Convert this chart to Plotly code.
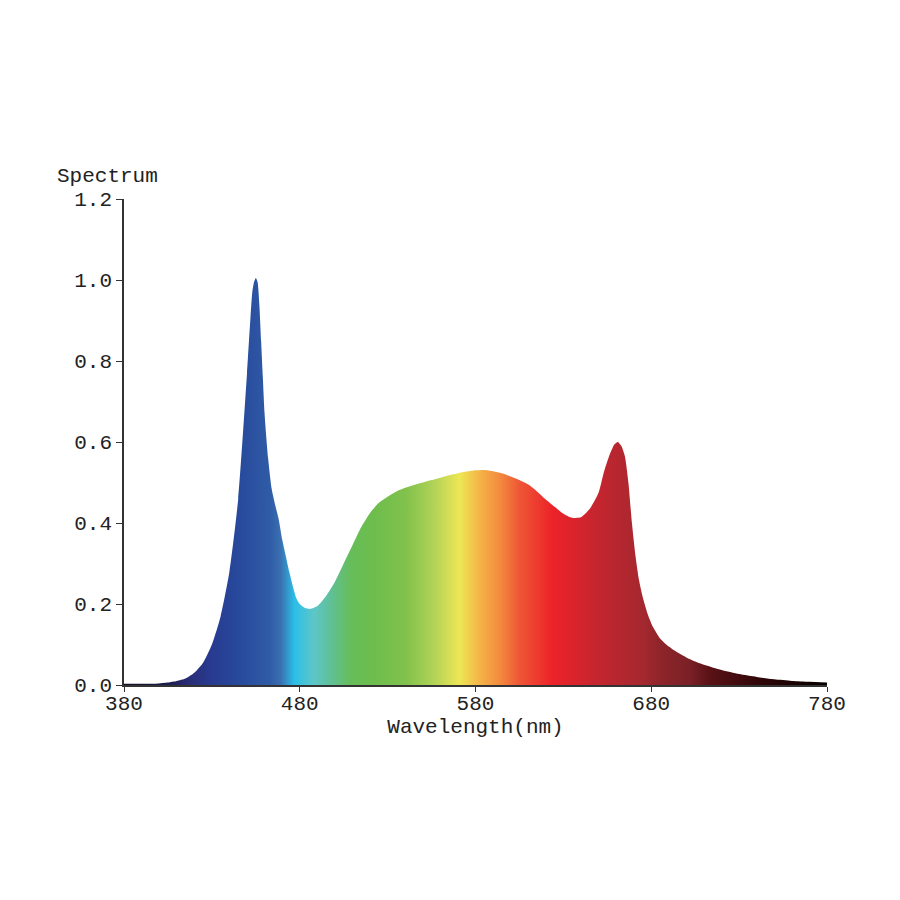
import plotly.graph_objects as go

# Spectrum readings (wavelength nm -> relative intensity)
wavelength = [380, 385, 390, 395, 400, 405, 410, 415, 420, 425, 430, 435, 440, 445,
              450, 452, 453, 454, 455, 456, 457, 458, 459, 460, 462, 464, 466, 468, 470,
              472, 474, 476, 478, 480, 483, 486, 490, 495, 500, 505, 510, 515, 520,
              525, 530, 535, 540, 545, 550, 555, 560, 565, 570, 575, 580, 585, 590,
              595, 600, 605, 610, 615, 620, 625, 630, 635, 640, 645, 650, 653, 656,
              659, 661, 663, 665, 667, 669, 671, 673, 675, 678, 681, 685, 690, 695,
              700, 705, 710, 720, 730, 740, 750, 760, 770, 780]
intensity = [0.003, 0.003, 0.003, 0.003, 0.004, 0.006, 0.010, 0.016, 0.030, 0.055, 0.10, 0.17, 0.28, 0.46,
             0.77, 0.91, 0.97, 0.995, 1.005, 0.995, 0.94, 0.85, 0.76, 0.67, 0.56, 0.485, 0.445, 0.41, 0.36,
             0.32, 0.28, 0.245, 0.215, 0.20, 0.19, 0.188, 0.195, 0.22, 0.255, 0.30, 0.345, 0.39, 0.425,
             0.45, 0.465, 0.478, 0.487, 0.494, 0.50, 0.506, 0.512, 0.518, 0.523, 0.527, 0.530, 0.531, 0.528,
             0.523, 0.515, 0.506, 0.495, 0.478, 0.458, 0.440, 0.423, 0.413, 0.414, 0.435, 0.475, 0.525, 0.565,
             0.594, 0.600, 0.59, 0.565, 0.50, 0.40, 0.32, 0.26, 0.22, 0.175, 0.143, 0.115, 0.095, 0.080,
             0.068, 0.058, 0.050, 0.037, 0.027, 0.020, 0.014, 0.010, 0.008, 0.006]

# Colour of the fill at each wavelength
grad_wavelength = [380, 405, 418, 429, 444, 463, 469, 477, 488, 497, 509, 522, 541, 556,
                   571, 582, 594, 605, 624, 647, 675, 685, 702, 713, 742, 770, 780]
grad_color = ["#101020", "#1c1c50", "#2a2e78", "#283a8f", "#27489b", "#2f5ba6", "#3a6fb0",
              "#2bbfe8", "#5ec6c8", "#5fc09a", "#66bd5a", "#6dbd4c", "#82c24c", "#b0d257",
              "#ede755", "#f5b548", "#f38a3e", "#ef5636", "#ec2229", "#c8252f", "#a5282f",
              "#8e252a", "#7a2026", "#5a1216", "#300608", "#100000", "#050000"]

x_ticks = [380, 480, 580, 680, 780]
y_ticks = [0.0, 0.2, 0.4, 0.6, 0.8, 1.0, 1.2]

lo, hi = grad_wavelength[0], grad_wavelength[-1]
colorscale = [[(w - lo) / (hi - lo), c] for w, c in zip(grad_wavelength, grad_color)]

FONT = "Liberation Mono, Courier New, monospace"
FS = 21

fig = go.Figure()
fig.add_trace(go.Scatter(
    x=wavelength, y=intensity, mode="lines", line=dict(width=0, shape="spline", smoothing=0.6),
    fill="tozeroy",
    fillgradient=dict(type="horizontal", colorscale=colorscale, start=lo, stop=hi),
    hoverinfo="x+y", showlegend=False,
))

axis_common = dict(showline=True, linecolor="#333333", linewidth=1.5, ticks="outside",
                   tickwidth=1.2, tickcolor="#333333", showgrid=False, zeroline=False,
                   tickfont=dict(family=FONT, size=FS, color="#222222"))

fig.update_layout(
    width=900, height=900,
    paper_bgcolor="white", plot_bgcolor="white",
    margin=dict(l=124, r=73, t=199, b=215),
    xaxis=dict(range=[380, 780], tickvals=x_ticks, ticktext=[str(t) for t in x_ticks],
               ticklen=5, ticklabelstandoff=-7,
               title=dict(text="Wavelength(nm)", font=dict(family=FONT, size=FS, color="#222222"), standoff=0),
               **axis_common),
    yaxis=dict(range=[0, 1.2], tickvals=y_ticks, ticktext=[f"{t:.1f}" for t in y_ticks],
               ticklen=6, **axis_common),
    annotations=[dict(text="Spectrum", xref="paper", yref="paper", x=-0.0228, y=1.047,
                      xanchor="center", yanchor="middle", showarrow=False,
                      font=dict(family=FONT, size=FS, color="#222222"))],
)

fig.write_html("out.html")
